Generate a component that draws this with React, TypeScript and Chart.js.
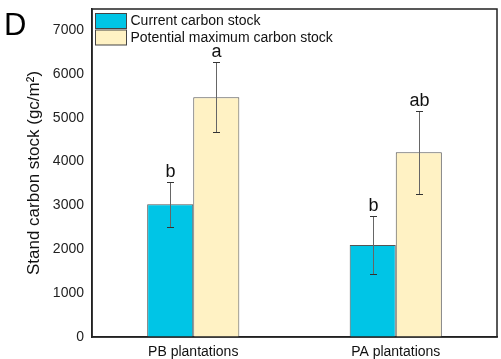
import React, { useEffect, useRef } from "react";
import { Chart, registerables } from "chart.js";

Chart.register(...registerables);

const categories = ["PB plantations", "PA plantations"];
const seriesNames = ["Current carbon stock", "Potential maximum carbon stock"];
const currentValues = [3025, 2100];
const currentErrors = [510, 670];
const potentialValues = [5470, 4215];
const potentialErrors = [800, 950];
const currentLetters = ["b", "b"];
const potentialLetters = ["a", "ab"];
const yTicks = [0, 1000, 2000, 3000, 4000, 5000, 6000, 7000];

const FONT = "'Liberation Sans', Arial, sans-serif";

const errorPlugin = {
  id: "errbars",
  afterDatasetsDraw(chart: any) {
    const ctx = chart.ctx;
    const y = chart.scales.y;
    const errs = [currentErrors, potentialErrors];
    const letters = [currentLetters, potentialLetters];
    ctx.save();
    chart.data.datasets.forEach((ds: any, di: number) => {
      const meta = chart.getDatasetMeta(di);
      meta.data.forEach((bar: any, i: number) => {
        const v = ds.data[i];
        const e = errs[di][i];
        const x = Math.round(bar.x);
        const yt = Math.round(y.getPixelForValue(v + e));
        const yb = Math.round(y.getPixelForValue(v - e));
        ctx.strokeStyle = "#666";
        ctx.lineWidth = 1;
        ctx.beginPath();
        ctx.moveTo(x + 0.5, yt);
        ctx.lineTo(x + 0.5, yb);
        ctx.stroke();
        ctx.strokeStyle = "#333";
        ctx.beginPath();
        ctx.moveTo(x - 3, yt + 0.5);
        ctx.lineTo(x + 4, yt + 0.5);
        ctx.moveTo(x - 3, yb + 0.5);
        ctx.lineTo(x + 4, yb + 0.5);
        ctx.stroke();
        ctx.fillStyle = "#111";
        ctx.font = `18px ${FONT}`;
        ctx.textAlign = "center";
        ctx.textBaseline = "bottom";
        ctx.fillText(letters[di][i], x + 0.5, yt - 1);
      });
    });
    const a = chart.chartArea;
    // legend
    const colors = ["#00c5e6", "#fff2c4"];
    ctx.font = `14px ${FONT}`;
    ctx.textAlign = "left";
    ctx.textBaseline = "middle";
    seriesNames.forEach((name, i) => {
      const bx = a.left + 3.5;
      const by = a.top + 4.5 + i * 16.5;
      ctx.fillStyle = colors[i];
      ctx.fillRect(bx, by, 31, 15);
      ctx.strokeStyle = "#444";
      ctx.lineWidth = 1;
      ctx.strokeRect(bx, by, 31, 15);
      ctx.fillStyle = "#111";
      ctx.fillText(name, bx + 35, by + 8);
    });
    // frame
    ctx.strokeStyle = "#222";
    ctx.lineWidth = 1.5;
    ctx.strokeRect(a.left, a.top, a.right - a.left, a.bottom - a.top);
    // panel letter
    ctx.fillStyle = "#000";
    ctx.font = `31px ${FONT}`;
    ctx.textAlign = "left";
    ctx.textBaseline = "alphabetic";
    ctx.fillText("D", 4, 35);
    ctx.restore();
  },
};

export default function App() {
  const ref = useRef<HTMLCanvasElement>(null);
  useEffect(() => {
    if (!ref.current) return;
    const chart = new Chart(ref.current, {
      type: "bar",
      data: {
        labels: categories,
        datasets: [
          {
            label: seriesNames[0],
            data: currentValues,
            backgroundColor: "#00c5e6",
            borderColor: "#555",
            borderWidth: 1,
            categoryPercentage: 0.455,
            barPercentage: 1,
          },
          {
            label: seriesNames[1],
            data: potentialValues,
            backgroundColor: "#fff2c4",
            borderColor: "#555",
            borderWidth: 1,
            categoryPercentage: 0.455,
            barPercentage: 1,
          },
        ],
      },
      options: {
        responsive: false,
        animation: false,
        layout: { padding: { top: 9, right: 4, left: 0, bottom: 0 } },
        plugins: {
          tooltip: { enabled: false },
          legend: { display: false },
        },
        scales: {
          x: {
            grid: { display: false },
            border: { color: "#222", width: 1.5 },
            ticks: { color: "#111", font: { family: FONT, size: 14 }, padding: -1 },
            afterFit: (s: any) => {
              s.height = 22;
            },
          },
          y: {
            min: 0,
            max: 7480,
            grid: { display: false },
            border: { color: "#222", width: 1.5 },
            afterBuildTicks: (s: any) => {
              s.ticks = yTicks.map((v) => ({ value: v }));
            },
            ticks: {
              color: "#222",
              font: { family: FONT, size: 14 },
              padding: 0,
              callback: (v: any) => String(v),
            },
            title: {
              display: true,
              text: "Stand carbon stock (gc/m²)",
              color: "#111",
              font: { family: FONT, size: 17 },
              padding: { top: 24, bottom: 0 },
            },
            afterFit: (s: any) => {
              s.width = 92;
            },
          },
        },
      },
      plugins: [errorPlugin],
    });
    return () => chart.destroy();
  }, []);
  return (
    <div style={{ position: "fixed", left: 0, top: 0, width: 501, height: 359, background: "#fff" }}>
      <canvas ref={ref} width={501} height={359} />
    </div>
  );
}
